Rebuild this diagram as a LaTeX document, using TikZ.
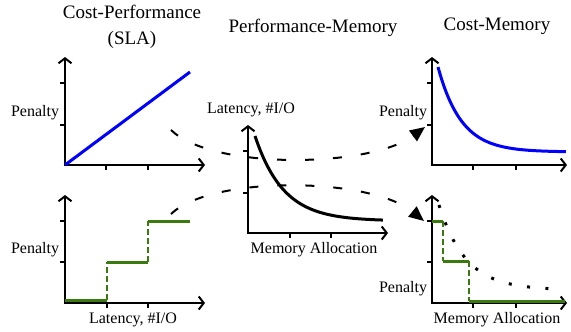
\documentclass[tikz,border=0pt]{standalone}
\usepackage{fontspec}
\setmainfont{Liberation Serif}
\usetikzlibrary{arrows.meta}
\usetikzlibrary{positioning}
\definecolor{stepgreen}{RGB}{58,122,14}
\tikzset{every picture/.style={line width=0.75pt}}
\tikzset{
  axis/.style={line width=2pt, line join=miter,
    {Straight Barb[length=5pt,width=13pt]}-{Straight Barb[length=5pt,width=13pt]}},
  tick/.style={line width=1.6pt},
  title/.style={font=\fontsize{19}{26}\selectfont, align=center, inner sep=0pt},
  lbl/.style={font=\fontsize{16}{18}\selectfont, inner sep=0pt},
  costline/.style={blue, line width=3pt},
  perfline/.style={black, line width=3pt},
  stepline/.style={stepgreen, line width=3pt},
  steprise/.style={stepgreen, line width=2.2pt, dash pattern=on 6pt off 3pt},
  dotline/.style={line width=3pt, dash pattern=on 3pt off 15.5pt},
  map/.style={line width=2pt, dash pattern=on 9pt off 19pt,
    -{Triangle[length=15pt,width=13pt]}}
}

\begin{document}
\begin{tikzpicture}[x=1pt,y=-1pt]
\useasboundingbox (0,0) rectangle (571,332);

% titles
\node[title] (slaTitle) at (132,27) {Cost-Performance\\(SLA)};
\node[title] (pmTitle) at (313,28) {Performance-Memory};
\node[title] (cmTitle) at (497,26) {Cost-Memory};

% cost-performance, linear
\draw[axis] (65,57) -- (65,165) -- (205,165);
\draw[tick] (60,83) -- (65,83) (60,125) -- (65,125);
\draw[tick] (106,165) -- (106,170) (148,165) -- (148,170);
\draw[costline] (65,165) -- (190,72);
\node[lbl] (slaPenalty) at (35,113) {Penalty};

% cost-performance, steps
\draw[axis] (65,195) -- (65,303) -- (205,303);
\draw[tick] (60,221) -- (65,221) (60,262) -- (65,262);
\draw[tick] (107,303) -- (107,308) (148,303) -- (148,308);
\draw[stepline] (65,300) -- (107,300);
\draw[steprise] (107,300) -- (107,262);
\draw[stepline] (107,262) -- (148,262);
\draw[steprise] (148,262) -- (148,221);
\draw[stepline] (148,221) -- (190,221);
\node[lbl] (stepPenalty) at (35,250) {Penalty};
\node[lbl] (stepLatency) at (133,320) {Latency, \#I/O};

% performance-memory
\draw[axis] (248,125) -- (248,233) -- (388,233);
\draw[tick] (243,151) -- (248,151) (243,193) -- (248,193);
\draw[tick] (290,233) -- (290,238) (331,233) -- (331,238);
\draw[perfline] plot[domain=0:1, samples=60, smooth] ({255+128*\x},{221-85*exp(-4.5*\x)});
\node[lbl] (pmLatency) at (251,110) {Latency, \#I/O};
\node[lbl] (pmMemory) at (314,250) {Memory Allocation};

% cost-memory, smooth
\draw[axis] (432,57) -- (432,165) -- (567,165);
\draw[tick] (427,83) -- (432,83) (427,125) -- (432,125);
\draw[tick] (473,165) -- (473,170) (516,165) -- (516,170);
\draw[costline] plot[domain=0:1, samples=60, smooth] ({438+128*\x},{152-85*exp(-5.5*\x)});
\node[lbl] (cmPenalty) at (403,113) {Penalty};

% cost-memory, steps
\draw[axis] (432,195) -- (432,303) -- (567,303);
\draw[tick] (427,221) -- (432,221) (427,262) -- (432,262);
\draw[tick] (473,303) -- (473,308) (516,303) -- (516,308);
\draw[dotline] plot[domain=0:1, samples=80, smooth] ({439+121*\x},{290-85*exp(-4.5*\x)});
\draw[stepline] (432,221) -- (443,221);
\draw[steprise] (443,221) -- (443,261);
\draw[stepline] (443,261) -- (469,261);
\draw[steprise] (469,261) -- (469,301);
\draw[stepline] (469,301) -- (565,301);
\node[lbl] (msPenalty) at (403,289) {Penalty};
\node[lbl] (msMemory) at (497,320) {Memory Allocation};

% mappings
\coordinate (slaEnd) at (171,130);
\coordinate (stepEnd) at (171,214);
\coordinate (cmHit) at (425,127);
\coordinate (msHit) at (424,221);
\draw[map] (slaEnd) .. controls (212,170) and (370,168) .. (cmHit);
\draw[map] (stepEnd) .. controls (212,175) and (370,177) .. (msHit);
\end{tikzpicture}
\end{document}
